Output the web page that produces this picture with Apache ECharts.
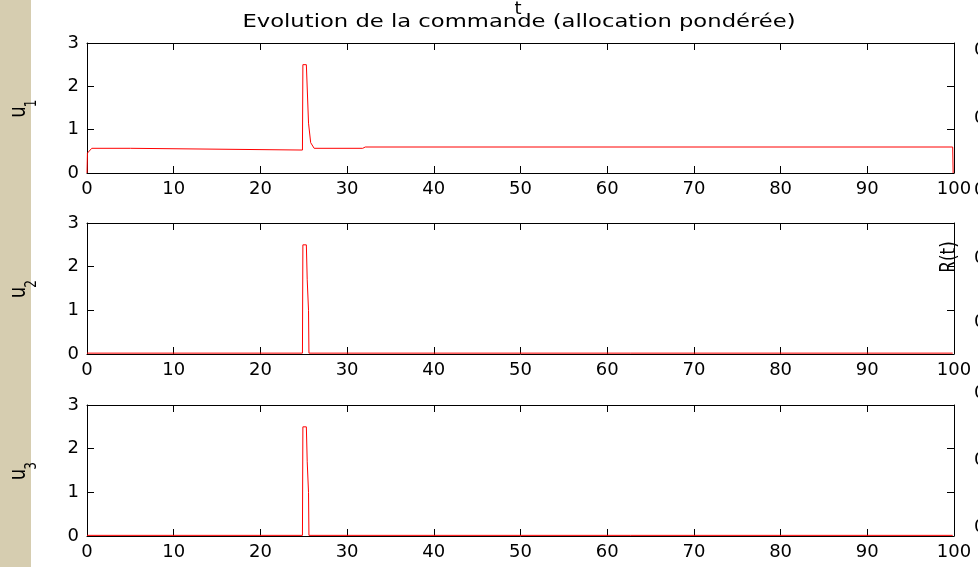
<!DOCTYPE html>
<html>
<head>
<meta charset="utf-8">
<script src="https://cdn.jsdelivr.net/npm/echarts@6/dist/echarts.min.js"></script>
<style>
  html, body { margin: 0; padding: 0; background: #ffffff; }
  #chart { width: 978px; height: 567px; }
</style>
</head>
<body>
<div id="chart"></div>
<script>
// Time samples and control signals of the three actuators
const t1 = [0, 0.05, 0.55, 5.0, 5.1, 24.85, 24.9, 25.3, 25.55, 25.8, 26.2, 31.8, 32.1, 99.85, 99.9];
const u1 = [0, 0.46, 0.57, 0.57, 0.53, 0.53, 2.5, 2.5, 1.15, 0.7, 0.57, 0.57, 0.6, 0.6, 0];

const t2 = [0, 24.85, 24.9, 25.3, 25.4, 25.55, 25.6, 99.85];
const u2 = [0.02, 0.02, 2.5, 2.5, 1.7, 1.0, 0.02, 0.02];

const t3 = [0, 24.85, 24.9, 25.3, 25.4, 25.55, 25.6, 99.85];
const u3 = [0.015, 0.015, 2.5, 2.5, 1.7, 1.0, 0.015, 0.015];

const xTicks = [0, 10, 20, 30, 40, 50, 60, 70, 80, 90, 100];
const yTicks = [0, 1, 2, 3];
const titleText = 'Evolution de la commande (allocation pondérée)';
const ySubscripts = ['1', '2', '3'];

const FONT = 'DejaVu Sans';
const series = [[t1, u1], [t2, u2], [t3, u3]];

const grids = [
  { left: 87, right: 24, top: 43, height: 130 },
  { left: 87, right: 24, top: 223, height: 131 },
  { left: 87, right: 24, top: 405, height: 131 }
];

const xAxes = [], yAxes = [], seriesList = [], nameLabels = [];
grids.forEach((g, i) => {
  const common = {
    gridIndex: i, type: 'value',
    min: xTicks[0], max: xTicks[xTicks.length - 1], interval: 10,
    axisLine: { show: true, onZero: false, lineStyle: { color: '#000', width: 1 } },
    axisTick: { show: true, inside: true, length: 7, lineStyle: { color: '#000', width: 1 } },
    splitLine: { show: false }
  };
  xAxes.push(Object.assign({}, common, {
    position: 'bottom',
    axisLabel: { show: true, color: '#000', fontFamily: FONT, fontSize: 18, margin: 7 }
  }));
  xAxes.push(Object.assign({}, common, {
    position: 'top', axisLabel: { show: false }
  }));
  const ycommon = {
    gridIndex: i, type: 'value',
    min: yTicks[0], max: yTicks[yTicks.length - 1], interval: 1,
    axisLine: { show: true, onZero: false, lineStyle: { color: '#000', width: 1 } },
    axisTick: { show: true, inside: true, length: 7, lineStyle: { color: '#000', width: 1 } },
    splitLine: { show: false }
  };
  yAxes.push(Object.assign({}, ycommon, {
    position: 'left',
    axisLabel: { show: true, color: '#000', fontFamily: FONT, fontSize: 18, margin: 8 }
  }));
  yAxes.push(Object.assign({}, ycommon, {
    position: 'right', axisLabel: { show: false }
  }));
  const [ts, us] = series[i];
  seriesList.push({
    type: 'line',
    xAxisIndex: i * 2, yAxisIndex: i * 2,
    data: ts.map((t, k) => [t, us[k]]),
    showSymbol: false, symbol: 'none',
    lineStyle: { color: '#ff0000', width: 1 },
    animation: false, silent: true, z: 5
  });

  // rotated y label "u" with its subscript
  const cy = g.top + g.height / 2;
  nameLabels.push({
    type: 'text', x: 19, y: cy + 4, rotation: Math.PI / 2, scaleY: 1.25, z: 10,
    style: { text: 'u', font: '18px ' + FONT, fill: '#000', textAlign: 'center', textVerticalAlign: 'middle' }
  });
  nameLabels.push({
    type: 'text', x: 32, y: cy - 4.5, rotation: Math.PI / 2, scaleY: 1.25, z: 10,
    style: { text: ySubscripts[i], font: '12px ' + FONT, fill: '#000', textAlign: 'center', textVerticalAlign: 'middle' }
  });
});

// Text fragments of the neighbouring panel, cut by the right edge
const edgeYs = [50, 118, 190, 258, 322, 393, 460, 527];
const edgeText = edgeYs.map(y => ({
  type: 'text', x: 974, y: y, z: 10,
  style: { text: '0', font: '18px ' + FONT, fill: '#000', textVerticalAlign: 'middle' }
}));

const chart = echarts.init(document.getElementById('chart'), null, { renderer: 'canvas' });
chart.setOption({
  backgroundColor: '#ffffff',
  animation: false,
  grid: grids,
  xAxis: xAxes,
  yAxis: yAxes,
  series: seriesList,
  graphic: [
    { type: 'rect', shape: { x: 0, y: 0, width: 31, height: 567 }, style: { fill: '#d6cdb0' }, z: -10 },
    { type: 'text', x: 519, y: 22, scaleX: 1.26, z: 10,
      style: { text: titleText, font: '18px ' + FONT, fill: '#000', textAlign: 'center', textVerticalAlign: 'middle' } },
    { type: 'text', x: 518, y: 9, z: 10,
      style: { text: 't', font: '18px ' + FONT, fill: '#000', textAlign: 'center', textVerticalAlign: 'middle' } },
    { type: 'text', x: 950, y: 257, rotation: Math.PI / 2, scaleY: 1.2, z: 10,
      style: { text: 'R(t)', font: '17px ' + FONT, fill: '#000', textAlign: 'center', textVerticalAlign: 'middle' } }
  ].concat(nameLabels, edgeText)
});
</script>
</body>
</html>
